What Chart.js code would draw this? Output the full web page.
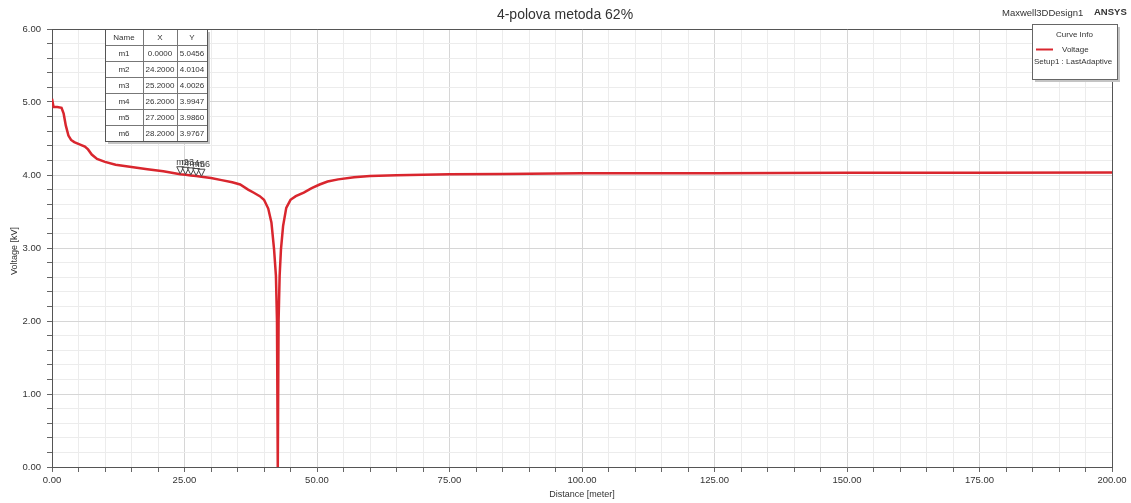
<!DOCTYPE html>
<html>
<head>
<meta charset="utf-8">
<script src="https://cdn.jsdelivr.net/npm/chart.js@4"></script>
<style>
  body { margin: 0; background: #fff; }
  #grafico { display: block; }
</style>
</head>
<body>
<canvas id="grafico" width="1131" height="503"></canvas>
<script>
// dados (Distance [meter] x Voltage [kV])
const distancia = [0, 0.3, 1.0, 1.8, 2.2, 2.6, 3.1, 3.6, 4.2, 5.2, 6.2, 6.8, 7.5, 8.5, 10, 12, 15, 18, 21,
  24.2, 25.2, 26.2, 27.2, 28.2, 30, 32, 34, 35.5, 37, 38, 39.2, 40, 40.8, 41.4, 41.9, 42.25, 42.45,
  42.6, 42.75, 42.95, 43.2, 43.6, 44.2, 45, 46, 47.5, 49, 50.5, 52, 54, 57, 60, 65, 70, 75, 85,
  100, 125, 150, 175, 200];
const tensao = [5.0456, 4.93, 4.93, 4.92, 4.84, 4.68, 4.54, 4.48, 4.45, 4.42, 4.39, 4.35, 4.28, 4.22, 4.18, 4.14, 4.11, 4.08, 4.05,
  4.0104, 4.0026, 3.9947, 3.9860, 3.9767, 3.96, 3.93, 3.90, 3.87, 3.80, 3.76, 3.71, 3.66, 3.54, 3.35, 2.98, 2.62, 2.0,
  0.0, 2.0, 2.62, 2.98, 3.3, 3.55, 3.66, 3.71, 3.76, 3.82, 3.87, 3.91, 3.94, 3.97, 3.985, 3.995, 4.005, 4.01, 4.015,
  4.025, 4.025, 4.03, 4.03, 4.035];

// marcadores (tabela)
const marcadorNomes = ['m1', 'm2', 'm3', 'm4', 'm5', 'm6'];
const marcadorX = [0.0, 24.2, 25.2, 26.2, 27.2, 28.2];
const marcadorY = [5.0456, 4.0104, 4.0026, 3.9947, 3.9860, 3.9767];

const titulo = '4-polova metoda 62%';
const nomeCurva = 'Voltage';
const setupCurva = 'Setup1 : LastAdaptive';
const tituloX = 'Distance [meter]';
const tituloY = 'Voltage [kV]';

const FONTE = "'Liberation Sans', Arial, sans-serif";
const VERMELHO = '#d9262e';

const pontos = distancia.map((d, i) => ({ x: d, y: tensao[i] }));

function ehInteiro(v, passo) {
  const r = v / passo;
  return Math.abs(r - Math.round(r)) < 1e-6;
}

// textos, legenda, tabela e marcadores
const extras = {
  id: 'extras',
  afterDatasetsDraw(chart) {
    const ctx = chart.ctx;
    const sx = chart.scales.x, sy = chart.scales.y;
    ctx.save();
    for (let i = 0; i < marcadorX.length; i++) {
      if (marcadorX[i] <= 0) continue;
      const px = sx.getPixelForValue(marcadorX[i]);
      const py = sy.getPixelForValue(marcadorY[i]) - 0.5;
      ctx.beginPath();
      ctx.moveTo(px, py);
      ctx.lineTo(px - 3.5, py - 7);
      ctx.lineTo(px + 3.5, py - 7);
      ctx.closePath();
      ctx.fillStyle = 'rgba(255,255,255,0.7)';
      ctx.fill();
      ctx.strokeStyle = '#444';
      ctx.lineWidth = 1;
      ctx.stroke();
    }
    ctx.font = '9px ' + FONTE;
    ctx.fillStyle = '#444';
    ctx.textAlign = 'left';
    ctx.textBaseline = 'middle';
    for (let i = 0; i < marcadorX.length; i++) {
      if (marcadorX[i] <= 0) continue;
      const px = sx.getPixelForValue(marcadorX[i]);
      const py = sy.getPixelForValue(marcadorY[i]);
      ctx.fillText(marcadorNomes[i], px - 4, py - 12);
    }
    ctx.restore();
  },
  afterDraw(chart) {
    const ctx = chart.ctx;
    const area = chart.chartArea;
    ctx.save();

    // borda superior e direita
    ctx.strokeStyle = '#555';
    ctx.lineWidth = 1;
    ctx.beginPath();
    ctx.moveTo(area.left, area.top + 0.5);
    ctx.lineTo(area.right + 0.5, area.top + 0.5);
    ctx.lineTo(area.right + 0.5, area.bottom);
    ctx.stroke();

    // título
    ctx.fillStyle = '#333';
    ctx.textAlign = 'center';
    ctx.textBaseline = 'middle';
    ctx.font = '14px ' + FONTE;
    ctx.fillText(titulo, 565, 15);

    ctx.font = '9.5px ' + FONTE;
    ctx.textAlign = 'left';
    ctx.fillText('Maxwell3DDesign1', 1002, 13);
    ctx.font = 'bold 9.5px ' + FONTE;
    ctx.fillText('ANSYS', 1094, 12);

    // títulos dos eixos
    ctx.font = '9px ' + FONTE;
    ctx.textAlign = 'center';
    ctx.fillText(tituloX, (area.left + area.right) / 2, 495);
    ctx.save();
    ctx.translate(15, (area.top + area.bottom) / 2 + 3);
    ctx.rotate(-Math.PI / 2);
    ctx.fillText(tituloY, 0, 0);
    ctx.restore();

    // caixa "Curve Info"
    const lx = 1032, ly = 24, lw = 85, lh = 55;
    ctx.fillStyle = '#c4c4c4';
    ctx.fillRect(lx + 3, ly + 3, lw, lh);
    ctx.fillStyle = '#fff';
    ctx.fillRect(lx, ly, lw, lh);
    ctx.strokeStyle = '#666';
    ctx.strokeRect(lx + 0.5, ly + 0.5, lw, lh);
    ctx.fillStyle = '#333';
    ctx.font = '8px ' + FONTE;
    ctx.textAlign = 'center';
    ctx.fillText('Curve Info', lx + lw / 2, 35);
    ctx.strokeStyle = VERMELHO;
    ctx.lineWidth = 2;
    ctx.beginPath();
    ctx.moveTo(1036, 49.5);
    ctx.lineTo(1053, 49.5);
    ctx.stroke();
    ctx.textAlign = 'left';
    ctx.fillText(nomeCurva, 1062, 50);
    ctx.fillText(setupCurva, 1034, 62);

    // tabela de marcadores
    const tx = 105, ty = 29;
    const cols = [38, 34, 30];
    const rh = 16;
    const tw = cols.reduce((a, b) => a + b, 0);
    const th = rh * (marcadorNomes.length + 1);
    ctx.fillStyle = '#c4c4c4';
    ctx.fillRect(tx + 3, ty + 3, tw, th);
    ctx.fillStyle = '#fff';
    ctx.fillRect(tx, ty, tw, th);
    ctx.strokeStyle = '#777';
    ctx.lineWidth = 1;
    for (let r = 1; r <= marcadorNomes.length; r++) {
      ctx.beginPath();
      ctx.moveTo(tx, ty + r * rh + 0.5);
      ctx.lineTo(tx + tw, ty + r * rh + 0.5);
      ctx.stroke();
    }
    let cx = tx;
    for (let c = 0; c < cols.length - 1; c++) {
      cx += cols[c];
      ctx.beginPath();
      ctx.moveTo(cx + 0.5, ty);
      ctx.lineTo(cx + 0.5, ty + th);
      ctx.stroke();
    }
    ctx.strokeStyle = '#555';
    ctx.strokeRect(tx + 0.5, ty + 0.5, tw, th);

    ctx.fillStyle = '#333';
    ctx.font = '8px ' + FONTE;
    ctx.textAlign = 'center';
    const centros = [tx + cols[0] / 2, tx + cols[0] + cols[1] / 2, tx + cols[0] + cols[1] + cols[2] / 2];
    ['Name', 'X', 'Y'].forEach((h, c) => ctx.fillText(h, centros[c], ty + rh / 2 + 1));
    for (let i = 0; i < marcadorNomes.length; i++) {
      const yy = ty + rh * (i + 1) + rh / 2 + 1;
      ctx.fillText(marcadorNomes[i], centros[0], yy);
      ctx.fillText(marcadorX[i].toFixed(4), centros[1], yy);
      ctx.fillText(marcadorY[i].toFixed(4), centros[2], yy);
    }

    ctx.restore();
  }
};

const ctx = document.getElementById('grafico').getContext('2d');
new Chart(ctx, {
  type: 'line',
  data: {
    datasets: [{
      label: nomeCurva,
      data: pontos,
      borderColor: VERMELHO,
      borderWidth: 2.5,
      pointRadius: 0,
      tension: 0,
      fill: false
    }]
  },
  options: {
    responsive: false,
    devicePixelRatio: 1,
    animation: false,
    layout: { padding: { top: 29, right: 19, left: 0, bottom: 0 } },
    plugins: {
      legend: { display: false },
      title: { display: false },
      tooltip: { enabled: false }
    },
    scales: {
      x: {
        type: 'linear',
        min: 0,
        max: 200,
        afterFit: s => { s.height = 36; },
        border: { display: true, color: '#555', width: 1 },
        grid: {
          color: c => (c.tick && ehInteiro(c.tick.value, 25)) ? '#d6d6d6' : '#ececec',
          tickColor: '#666',
          tickLength: 5
        },
        ticks: {
          stepSize: 5,
          autoSkip: false,
          maxRotation: 0,
          padding: 3,
          color: '#333',
          font: { family: FONTE, size: 9.5 },
          callback: v => ehInteiro(v, 25) ? Number(v).toFixed(2) : ''
        }
      },
      y: {
        type: 'linear',
        min: 0,
        max: 6,
        afterFit: s => { s.width = 52; },
        border: { display: true, color: '#555', width: 1 },
        grid: {
          color: c => (c.tick && ehInteiro(c.tick.value, 1)) ? '#d6d6d6' : '#ececec',
          tickColor: '#666',
          tickLength: 5
        },
        ticks: {
          stepSize: 0.2,
          autoSkip: false,
          padding: 6,
          color: '#333',
          font: { family: FONTE, size: 9.5 },
          callback: v => ehInteiro(v, 1) ? Number(v).toFixed(2) : ''
        }
      }
    }
  },
  plugins: [extras]
});
</script>
</body>
</html>
